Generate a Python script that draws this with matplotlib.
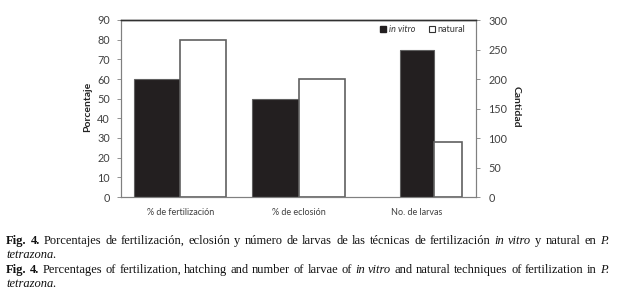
import matplotlib
matplotlib.use('Agg')
import matplotlib.pyplot as plt
from matplotlib.patches import Patch
import numpy as np

# data
categories = ['% de fertilización', '% de eclosión', 'No. de larvas']
pct_invitro = [60, 50]      # left axis (Porcentaje)
pct_natural = [80, 60]
larvae_invitro = 250        # right axis (Cantidad)
larvae_natural = 94

SANS = 'Lato'
TICK_COLOR = '#404040'
EDGE = '#606060'

fig = plt.figure(figsize=(6.35, 2.97), dpi=100)
ax = fig.add_axes([121/635, 1 - 197/297, 355/635, 177/297])
ax2 = ax.twinx()

x = np.arange(len(categories))
w = 0.39
ax.bar(x[:2] - w/2, pct_invitro, w, color='#231f20', edgecolor=EDGE, linewidth=0.8)
ax.bar(x[:2] + w/2, pct_natural, w, color='white', edgecolor=EDGE, linewidth=1.2)

# secondary-axis series sit a bit narrower, black one centred on the category
ax2.bar(x[2], larvae_invitro, 0.29, color='#231f20', edgecolor=EDGE, linewidth=0.8)
ax2.bar(x[2] + 0.145, larvae_natural, 0.235, align='edge', color='white',
        edgecolor=EDGE, linewidth=1.2)

ax.set_xlim(-0.5, 2.5)
ax.set_ylim(0, 90)
ax.set_yticks(range(0, 91, 10))
ax2.set_ylim(0, 300)
ax2.set_yticks(range(0, 301, 50))

ax.set_xticks(x)
ax.set_xticklabels(categories, fontsize=6.5, family=SANS, color=TICK_COLOR)
ax.tick_params(axis='x', length=0, pad=8)
ax.tick_params(axis='y', length=3, width=0.6, color='#808080', labelsize=7.8,
               labelcolor=TICK_COLOR, pad=5)
ax2.tick_params(axis='y', length=3, width=0.6, color='#808080', labelsize=7.8,
                labelcolor=TICK_COLOR, pad=6)
for lab in ax.get_yticklabels() + ax2.get_yticklabels():
    lab.set_family(SANS)

for a in (ax, ax2):
    for s in a.spines.values():
        s.set_linewidth(0.8)
        s.set_color('#808080')
    a.spines['top'].set_color('#303030')
    a.spines['top'].set_linewidth(1.0)

fig.text(88/635, 1 - 107/297, 'Porcentaje', rotation=90, ha='center', va='center',
         fontsize=7.5, fontweight='bold', family=SANS, color='#222222')
fig.text(516/635, 1 - 107/297, 'Cantidad', rotation=270, ha='center', va='center',
         fontsize=7.5, fontweight='bold', family=SANS, color='#222222')

handles = [Patch(facecolor='#231f20', edgecolor='#231f20'),
           Patch(facecolor='white', edgecolor='#333333', linewidth=0.8)]
leg = ax2.legend(handles, ['in vitro', 'natural'], loc='upper right', ncol=2,
                 frameon=False, fontsize=6.5, handlelength=0.6, handleheight=0.6,
                 handletextpad=0.3, columnspacing=1.6, borderaxespad=0.2,
                 bbox_to_anchor=(0.985, 1.0))
for t in leg.get_texts():
    t.set_family(SANS)
    t.set_color('#333333')
leg.get_texts()[0].set_style('italic')

# caption, justified like the journal text
SERIF = 'Liberation Serif'
CAP_LEFT, CAP_RIGHT = 6, 609
cap = dict(fontsize=9.0, family=SERIF, color='#111111', va='baseline')
renderer = fig.canvas.get_renderer()


def caption_line(y, parts, justify=False):
    # split into words keeping their style
    words = []
    for txt, style in parts:
        for wd in txt.split():
            words.append((wd, style))
    kw_for = {'b': {'fontweight': 'bold'}, 'i': {'style': 'italic'}, '': {}}
    texts = []
    widths = []
    for wd, style in words:
        kw = dict(cap)
        kw.update(kw_for[style])
        t = fig.text(0, 1 - y/297, wd, **kw)
        texts.append(t)
        widths.append(t.get_window_extent(renderer=renderer).width)
    space = fig.text(0, 0, 'a b', **cap).get_window_extent(renderer=renderer).width
    space -= fig.text(0, 0, 'ab', **cap).get_window_extent(renderer=renderer).width
    for t in fig.texts[-2:]:
        t.remove()
    if justify and len(words) > 1:
        gap = (CAP_RIGHT - CAP_LEFT - sum(widths)) / (len(words) - 1)
    else:
        gap = space
    xpos = CAP_LEFT
    for t, wdt in zip(texts, widths):
        t.set_x(xpos/635)
        xpos += wdt + gap


caption_line(244, [('Fig. 4.', 'b'),
                   (' Porcentajes de fertilización, eclosión y número de larvas de las técnicas de fertilización ', ''),
                   ('in vitro', 'i'), (' y natural en ', ''), ('P.', 'i')], justify=True)
caption_line(258, [('tetrazona.', 'i')])
caption_line(273, [('Fig. 4.', 'b'),
                   (' Percentages of fertilization, hatching and number of larvae of ', ''),
                   ('in vitro', 'i'), (' and natural techniques of fertilization in ', ''), ('P.', 'i')],
             justify=True)
caption_line(287, [('tetrazona.', 'i')])

fig.savefig('out.png', dpi=100)
